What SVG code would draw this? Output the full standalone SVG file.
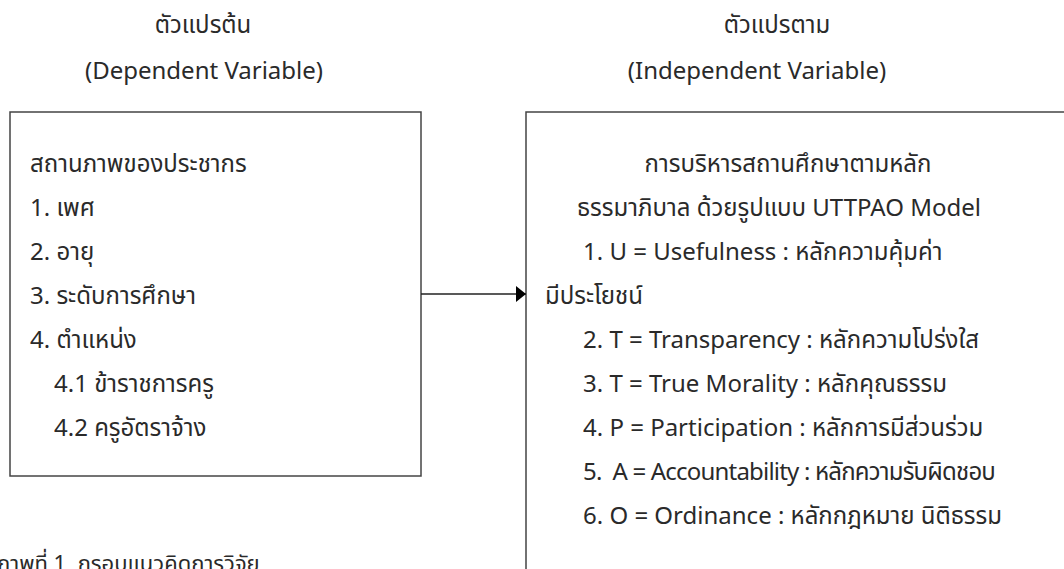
<svg xmlns="http://www.w3.org/2000/svg" width="1064" height="569" viewBox="0 0 1064 569">
<style>
text{font-family:"Noto Sans","Noto Sans Thai","Liberation Sans",sans-serif;font-size:24px;fill:#2a2a2a}
.c{text-anchor:middle}
.cap{font-size:22px}
.tight{letter-spacing:-0.8px}
.box{fill:#fff;stroke:#444;stroke-width:1.5}
.conn{stroke:#222;stroke-width:1.3;fill:none}
</style>
<defs>
<marker id="arr" viewBox="0 0 10 16" refX="10" refY="8" markerWidth="10" markerHeight="16" markerUnits="userSpaceOnUse" orient="auto">
<path d="M0,0 L10,8 L0,16 Z" fill="#000"/>
</marker>
</defs>
<rect width="1064" height="569" fill="#fff"/>
<g id="header-left">
<text class="c" x="203" y="33">ตัวแปรต้น</text>
<text class="c" x="204" y="79">(Dependent Variable)</text>
</g>
<g id="header-right">
<text class="c" x="777" y="33">ตัวแปรตาม</text>
<text class="c" x="757" y="79">(Independent Variable)</text>
</g>
<g id="node-left">
<rect class="box" x="10" y="112" width="411" height="364"/>
<text x="30" y="172">สถานภาพของประชากร</text>
<text x="30" y="216">1. เพศ</text>
<text x="30" y="260">2. อายุ</text>
<text x="30" y="304">3. ระดับการศึกษา</text>
<text x="30" y="348">4. ตำแหน่ง</text>
<text x="54" y="392">4.1 ข้าราชการครู</text>
<text x="54" y="436">4.2 ครูอัตราจ้าง</text>
</g>
<g id="node-right">
<rect class="box" x="526" y="112" width="600" height="520"/>
<text class="c" x="788" y="172">การบริหารสถานศึกษาตามหลัก</text>
<text class="c" x="779" y="216">ธรรมาภิบาล ด้วยรูปแบบ UTTPAO Model</text>
<text x="583" y="260">1. U = Usefulness : หลักความคุ้มค่า</text>
<text x="545" y="304">มีประโยชน์</text>
<text x="583" y="348">2. T = Transparency : หลักความโปร่งใส</text>
<text x="583" y="392">3. T = True Morality : หลักคุณธรรม</text>
<text x="583" y="436">4. P = Participation : หลักการมีส่วนร่วม</text>
<text class="tight" x="583" y="480" xml:space="preserve">5.  A = Accountability : หลักความรับผิดชอบ</text>
<text x="583" y="524">6. O = Ordinance : หลักกฎหมาย นิติธรรม</text>
</g>
<g id="connectors">
<line class="conn" x1="421" y1="294" x2="526" y2="294" marker-end="url(#arr)"/>
</g>
<g id="caption">
<text class="cap" x="-3" y="571" xml:space="preserve">ภาพที่ 1  กรอบแนวคิดการวิจัย</text>
</g>
</svg>
